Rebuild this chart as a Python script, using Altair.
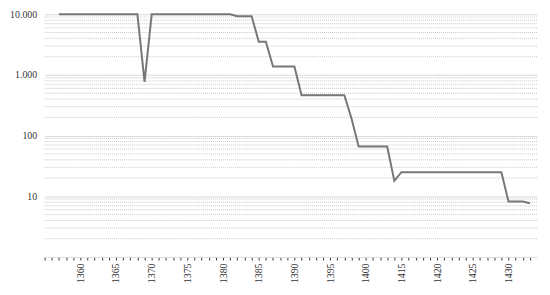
import json
import altair as alt
import pandas as pd

# Category axis (one tick per category); some categories carry no data
years = [1355, 1356, 1357, 1358, 1359, 1360, 1361, 1362, 1363, 1364,
         1365, 1366, 1367, 1368, 1369, 1370, 1371, 1372, 1373, 1374,
         1375, 1376, 1377, 1378, 1379, 1380, 1381, 1382, 1383, 1384,
         1385, 1386, 1387, 1388, 1389, 1390, 1391, 1392, 1393, 1394,
         1395, 1396, 1397, 1398, 1399, 1400, 1403, 1406, 1409, 1412,
         1415, 1416, 1417, 1418, 1419, 1420, 1421, 1422, 1423, 1424,
         1425, 1426, 1427, 1428, 1429, 1430, 1431, 1432, 1433]

values = [None, None, 10000, 10000, 10000, 10000, 10000, 10000, 10000, 10000,
          10000, 10000, 10000, 10000, 770, 10000, 10000, 10000, 10000, 10000,
          10000, 10000, 10000, 10000, 10000, 10000, 10000, 9300, 9300, 9300,
          3530, 3530, 1380, 1380, 1380, 1380, 465, 465, 465, 465,
          465, 465, 465, 192, 66, 66, 66, 66, 66, 18,
          25, 25, 25, 25, 25, 25, 25, 25, 25, 25,
          25, 25, 25, 25, 25, 8.2, 8.2, 8.2, 7.7]

labeled_years = [1360, 1365, 1370, 1375, 1380, 1385, 1390, 1395, 1400,
                 1415, 1420, 1425, 1430]

major_ticks = [10, 100, 1000, 10000]
minor_ticks = [2, 3, 4, 5, 6, 7, 8, 9,
               20, 30, 40, 50, 60, 70, 80, 90,
               200, 300, 400, 500, 600, 700, 800, 900,
               2000, 3000, 4000, 5000, 6000, 7000, 8000, 9000]

W, H = 497, 245
FONT = "Liberation Serif"

rows = [{"i": i, "year": y, "value": v}
        for i, (y, v) in enumerate(zip(years, values)) if v is not None]
df = pd.DataFrame(rows)

tick_text = [str(y) if y in labeled_years else "" for y in years]
x_label_expr = json.dumps(tick_text) + "[datum.value]"

yscale = alt.Scale(type="log", domain=[1, 10000], nice=False)
xscale = alt.Scale(domain=[0, len(years)], nice=False, zero=False)

yaxis = alt.Axis(values=major_ticks,
                 labelExpr="replace(format(datum.value, ','), ',', '.')",
                 grid=True, gridColor="#d9d9d9", domain=False, ticks=False,
                 tickSize=0, labelPadding=8, labelFont=FONT,
                 labelFontSize=10, labelColor="#333333")

minor = alt.Chart(pd.DataFrame({"value": minor_ticks})).mark_rule(
    color="#c9c9c9", strokeDash=[1, 1], strokeWidth=1
).encode(
    y=alt.Y("value:Q", scale=yscale, axis=yaxis, title=None),
    x=alt.value(0),
    x2=alt.value(W),
)

line = alt.Chart(df).mark_line(color="#777777", strokeWidth=2).encode(
    x=alt.X("i:Q", scale=xscale, title=None,
            axis=alt.Axis(values=list(range(len(years))), labelExpr=x_label_expr,
                          labelAngle=270, labelAlign="right", labelBaseline="middle",
                          labelPadding=3, tickSize=3, tickColor="#333333",
                          domainColor="#dddddd", grid=False, labelFont=FONT,
                          labelFontSize=10, labelColor="#333333",
                          labelOverlap=False, labelFlush=False)),
    y=alt.Y("value:Q", scale=yscale, axis=yaxis, title=None),
)

chart = alt.layer(minor, line).properties(
    width=W, height=H,
    autosize=alt.AutoSizeParams(type="none"),
    padding={"left": 37, "top": 5, "right": 5, "bottom": 35},
).configure_view(stroke=None)

chart.save("out.html", embed_options={"renderer": "svg", "actions": False})
